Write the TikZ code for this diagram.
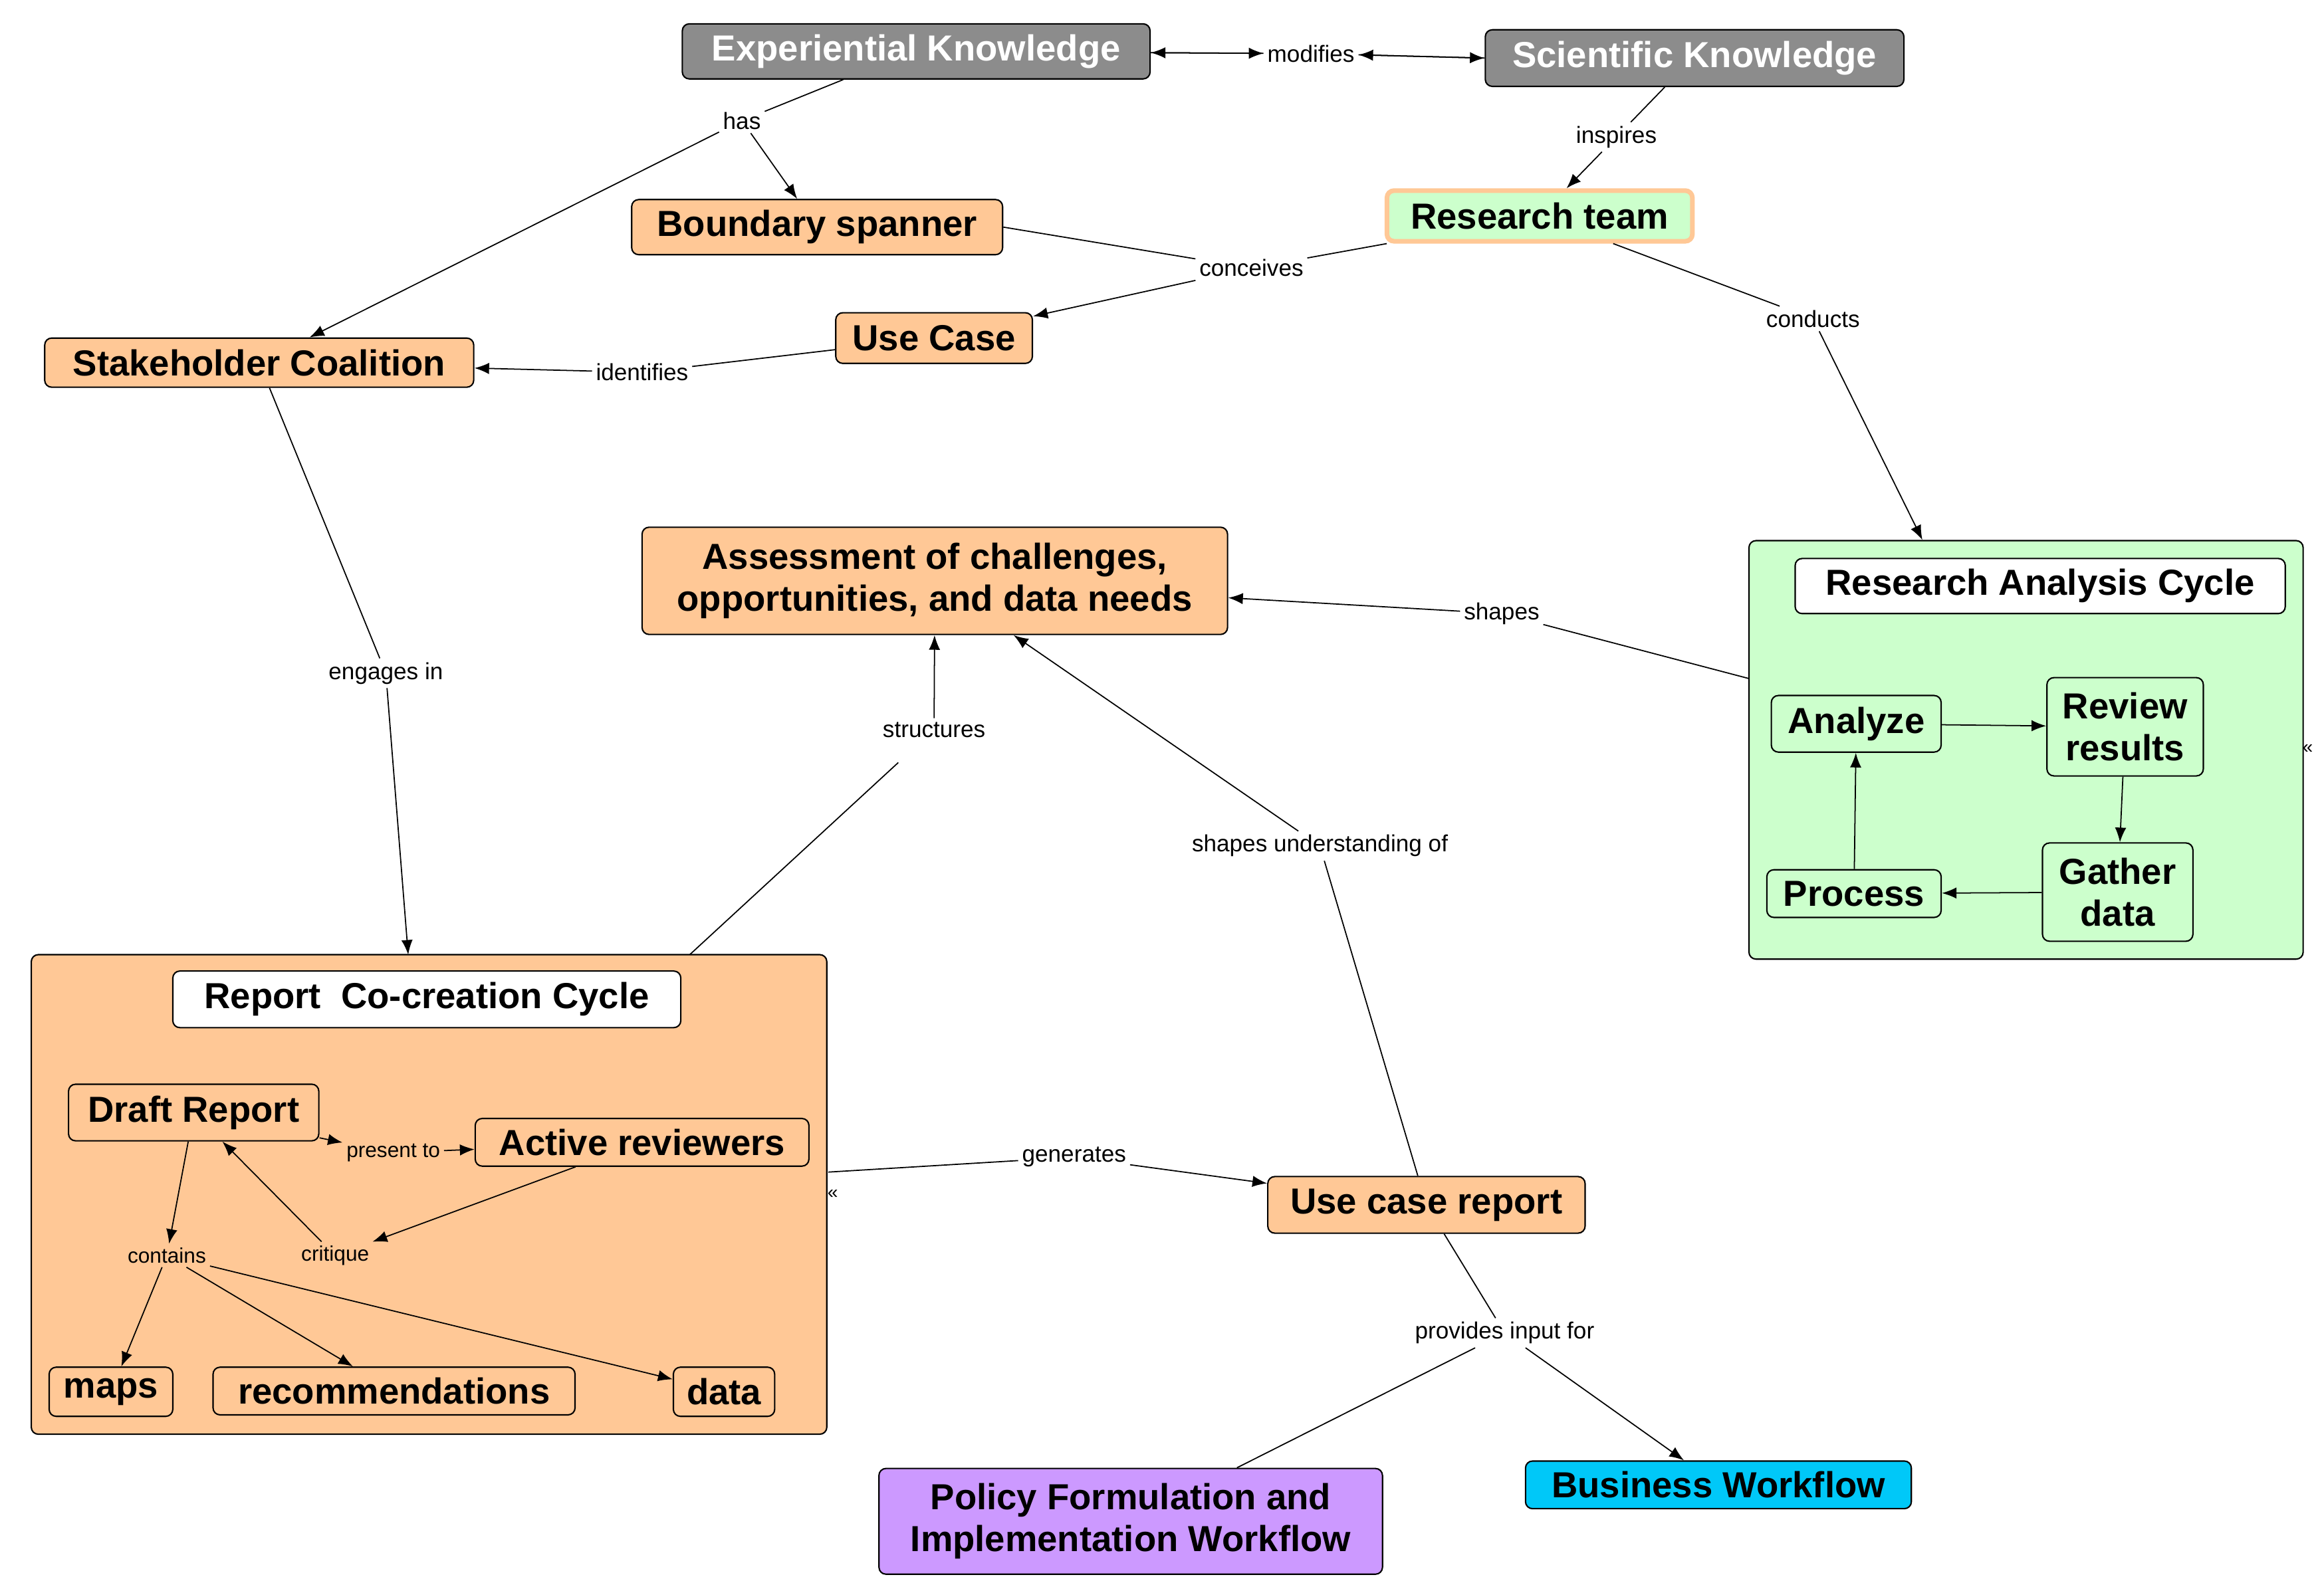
\documentclass[tikz,border=0pt]{standalone}
\usepackage{fontspec}
\setmainfont{Liberation Sans}
\usetikzlibrary{arrows.meta}
\definecolor{peach}{HTML}{FFC896}
\definecolor{mint}{HTML}{CCFFCC}
\definecolor{greyk}{HTML}{8C8C8C}
\definecolor{lilac}{HTML}{CC99FF}
\definecolor{cyanb}{HTML}{00C8F8}
\begin{document}
\begin{tikzpicture}[x=0.0224cm,y=-0.0224cm,
  sz/.style 2 args={minimum width=#1*0.0224cm, minimum height=#2*0.0224cm},
  box/.style={draw, rounded corners=3pt, font=\fontsize{15.5}{18}\selectfont\bfseries, inner sep=1pt, align=center, line width=0.6pt},
  pb/.style={box, fill=peach},
  lbl/.style={fill=white, inner sep=1.5pt, font=\fontsize{10}{12}\selectfont},
  arr/.style={-{Latex[length=2.2mm,width=1.7mm]}, line width=0.5pt},
  ln/.style={line width=0.5pt}]
\useasboundingbox (0,0) rectangle (1560,1064);
% containers
\node[draw, rounded corners=3pt, fill=mint, sz={372}{281}, line width=0.6pt] (RAC) at (1360,503.5) {};
\node[box, fill=white, sz={329}{37}] (RACt) at (1369.5,393.5) {Research Analysis Cycle};
\node[draw, rounded corners=3pt, fill=peach, sz={534}{322}, line width=0.6pt] (RCC) at (288,802) {};
\node[box, fill=white, sz={341}{38}] (RCCt) at (286.5,671) {Report\ \ Co-creation Cycle};
\node[font=\fontsize{8}{9}\selectfont, inner sep=0pt] (g1) at (1549,503) {«};
\node[font=\fontsize{8}{9}\selectfont, inner sep=0pt] (g2) at (559,802) {«};
% nodes
\node[box, fill=greyk, text=white, sz={314}{37}] (EK) at (615,34.5) {Experiential Knowledge};
\node[box, fill=greyk, text=white, sz={281}{38}] (SK) at (1137.5,39) {Scientific Knowledge};
\node[pb, sz={249}{37}] (BS) at (548.5,152.5) {Boundary spanner};
\node[box, fill=mint, draw=peach, line width=2pt, sz={205}{34}] (RT) at (1033.5,145) {Research team};
\node[pb, sz={132}{34}] (UC) at (627,227) {Use Case};
\node[pb, sz={288}{33}] (SC) at (174,243.5) {Stakeholder Coalition};
\node[pb, sz={393}{72}] (AS) at (627.5,390) {Assessment of challenges,\\opportunities, and data needs};
\node[box, fill=mint, sz={114}{38}] (AN) at (1246,486) {Analyze};
\node[box, fill=mint, sz={105}{66}] (RR) at (1426.5,488) {Review\\results};
\node[box, fill=mint, sz={101}{66}] (GD) at (1421.5,599) {Gather\\data};
\node[box, fill=mint, sz={117}{32}] (PR) at (1244.5,600) {Process};
\node[pb, sz={168}{38}] (DR) at (130,747) {Draft Report};
\node[pb, sz={224}{32}] (AR) at (431,767) {Active reviewers};
\node[pb, sz={83}{33}] (MA) at (74.5,934.5) {maps};
\node[pb, sz={243}{32}] (RE) at (264.5,934) {recommendations};
\node[pb, sz={68}{33}] (DA) at (486,934.5) {data};
\node[pb, sz={213}{38}] (UR) at (957.5,809) {Use case report};
\node[box, fill=lilac, sz={338}{71}] (PO) at (759,1021.5) {Policy Formulation and\\Implementation Workflow};
\node[box, fill=cyanb, sz={259}{32}] (BW) at (1153.5,997) {Business Workflow};
% labels
\node[lbl] (mod) at (880,36) {modifies};
\node[lbl] (has) at (498,81) {has};
\node[lbl] (ins) at (1085,92) {inspires};
\node[lbl] (con) at (840,180) {conceives};
\node[lbl] (cdt) at (1217,214) {conducts};
\node[lbl] (ide) at (431,250) {identifies};
\node[lbl] (eng) at (259,452) {engages in};
\node[lbl] (shp) at (1008,412) {shapes};
\node[lbl] (str) at (627,490) {structures};
\node[lbl] (shu) at (886,568) {shapes understanding of};
\node[lbl] (gen) at (721,777) {generates};
\node[lbl] (pif) at (1010,895) {provides input for};
\node[lbl, fill=peach, font=\fontsize{9}{11}\selectfont] (pre) at (264,774) {present to};
\node[lbl, fill=peach, font=\fontsize{9}{11}\selectfont] (cri) at (225,843) {critique};
\node[lbl, fill=peach, font=\fontsize{9}{11}\selectfont] (cts) at (112,843) {contains};
% edges
\draw[arr] (mod) -- (EK);
\draw[arr] (mod) -- (SK.west);
\draw[arr] (SK.west) -- (mod);
\draw[arr] (EK) -- (mod);
\draw[ln] (EK.south) ++(-49,0) coordinate (ek1);
\draw[ln] (ek1) -- (has);
\draw[arr] (has) -- (BS);
\draw[arr] (has) -- (SC);
\draw[ln] (SK.south) ++(-20,0) coordinate (sk1);
\draw[ln] (sk1) -- (ins);
\draw[arr] (ins) -- (RT);
\draw[ln] (BS.east) -- (con);
\draw[ln] (RT) -- (con);
\draw[arr] (con) -- (UC);
\draw[ln] (RT) -- (cdt);
\draw[arr] (cdt) -- (RAC);
\draw[ln] (UC) -- (ide);
\draw[arr] (ide) -- (SC);
\draw[ln] (SC) -- (eng);
\draw[arr] (eng) -- (274,641);
\draw[ln] (RAC.west) ++(0,-48) coordinate (r1);
\draw[ln] (r1) -- (shp);
\draw[arr] (shp) -- (AS);
\coordinate (c1) at (463,641);
\draw[ln] (c1) -- (603,512);
\draw[arr] (str) -- (AS);
\draw[ln] (UR) -- (shu);
\draw[arr] (shu) -- (AS);
\coordinate (c2) at (556,787);
\draw[ln] (c2) -- (gen);
\draw[arr] (gen) -- (UR);
\draw[ln] (UR) -- (pif);
\draw[arr] (pif) -- (BW);
\draw[ln] (pif) -- (PO);
\draw[arr] (AN) -- (RR);
\draw[arr] (RR) -- (GD);
\draw[arr] (GD) -- (PR);
\draw[arr] (PR) -- (AN);
\draw[arr] (DR) -- (pre);
\draw[arr] (pre) -- (AR);
\draw[arr] (AR) -- (cri);
\draw[arr] (cri) -- (DR);
\draw[arr] (DR) -- (cts);
\draw[arr] (cts) -- (MA);
\draw[arr] (cts) -- (RE);
\draw[arr] (cts) -- (DA);
\end{tikzpicture}
\end{document}
